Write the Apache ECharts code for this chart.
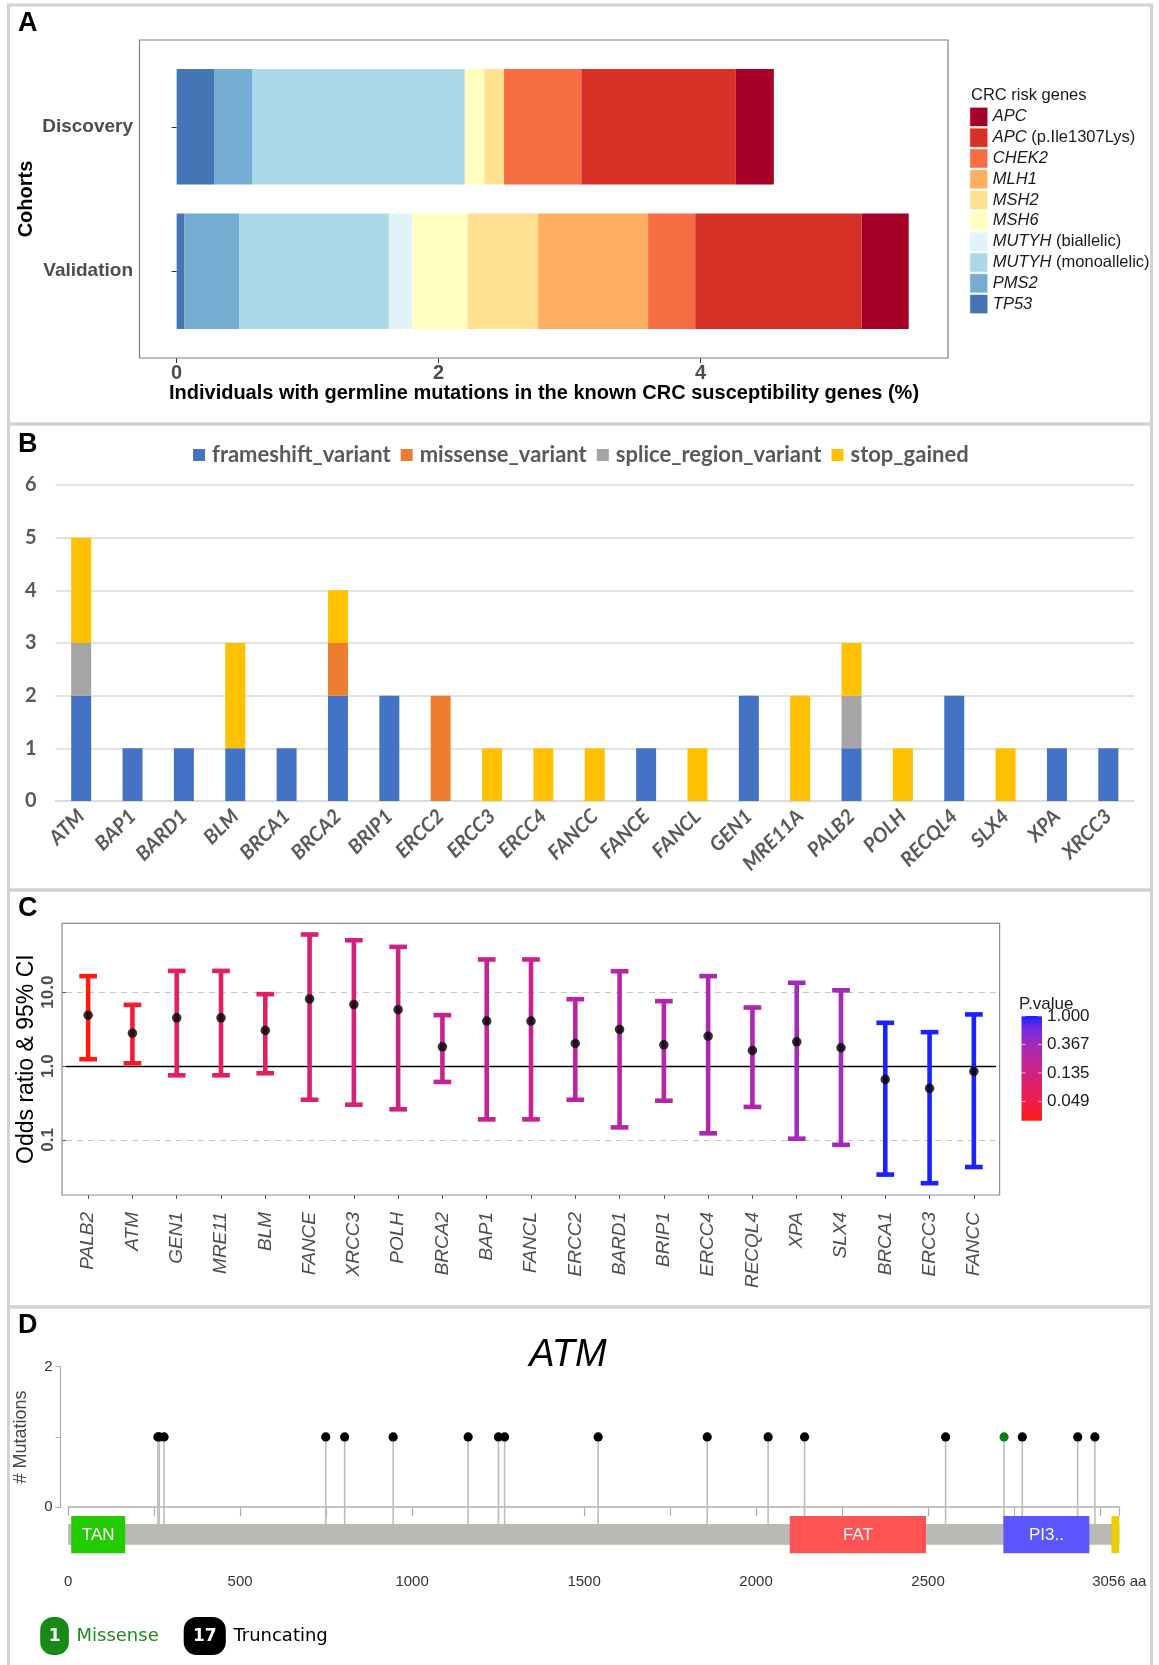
<!DOCTYPE html>
<html>
<head>
<meta charset="utf-8">
<script src="https://cdn.jsdelivr.net/npm/echarts@6/dist/echarts.min.js"></script>
<style>
  html, body { margin: 0; padding: 0; background: #fff; }
  #chart { width: 1159px; height: 1665px; }
</style>
</head>
<body>
<div id="chart"></div>
<script>
// ---------- A: carriers of known CRC risk genes per cohort (%) ----------
const cohorts = ['Discovery', 'Validation'];
const riskGenes = ['TP53', 'PMS2', 'MUTYH (monoallelic)', 'MUTYH (biallelic)', 'MSH6',
                   'MSH2', 'MLH1', 'CHEK2', 'APC (p.Ile1307Lys)', 'APC'];
const pctDiscovery  = [0.29, 0.29, 1.62, 0.00, 0.15, 0.15, 0.00, 0.59, 1.18, 0.29];
const pctValidation = [0.06, 0.42, 1.14, 0.18, 0.42, 0.54, 0.84, 0.36, 1.27, 0.36];
const xTicksA = [0, 2, 4];

// ---------- B: variant types in DNA repair genes ----------
const repairGenes = ['ATM', 'BAP1', 'BARD1', 'BLM', 'BRCA1', 'BRCA2', 'BRIP1', 'ERCC2', 'ERCC3', 'ERCC4',
                     'FANCC', 'FANCE', 'FANCL', 'GEN1', 'MRE11A', 'PALB2', 'POLH', 'RECQL4', 'SLX4', 'XPA', 'XRCC3'];
const frameshiftVariant   = [2, 1, 1, 1, 1, 2, 2, 0, 0, 0, 0, 1, 0, 2, 0, 1, 0, 2, 0, 1, 1];
const missenseVariant     = [0, 0, 0, 0, 0, 1, 0, 2, 0, 0, 0, 0, 0, 0, 0, 0, 0, 0, 0, 0, 0];
const spliceRegionVariant = [1, 0, 0, 0, 0, 0, 0, 0, 0, 0, 0, 0, 0, 0, 0, 1, 0, 0, 0, 0, 0];
const stopGained          = [2, 0, 0, 2, 0, 1, 0, 0, 1, 1, 1, 0, 1, 0, 2, 1, 1, 0, 1, 0, 0];

// ---------- C: odds ratios with 95% CI ----------
const orGenes = ['PALB2', 'ATM', 'GEN1', 'MRE11', 'BLM', 'FANCE', 'XRCC3', 'POLH', 'BRCA2', 'BAP1', 'FANCL',
                 'ERCC2', 'BARD1', 'BRIP1', 'ERCC4', 'RECQL4', 'XPA', 'SLX4', 'BRCA1', 'ERCC3', 'FANCC'];
const oddsRatio = [4.89, 2.79, 4.50, 4.50, 3.04, 8.10, 6.80, 5.80, 1.82, 4.06, 4.06,
                   2.02, 3.13, 1.94, 2.54, 1.63, 2.13, 1.77, 0.66, 0.50, 0.85];
const ciLower   = [1.24, 1.09, 0.75, 0.75, 0.80, 0.35, 0.30, 0.26, 0.61, 0.19, 0.19,
                   0.35, 0.148, 0.34, 0.123, 0.28, 0.104, 0.086, 0.034, 0.026, 0.043];
const ciUpper   = [16.5, 6.74, 19.4, 19.4, 9.40, 60.3, 50.4, 41.0, 4.89, 27.7, 27.7,
                   8.04, 19.2, 7.56, 16.5, 6.20, 13.4, 10.6, 3.85, 2.88, 5.00];
const pValue    = [0.025, 0.036, 0.076, 0.076, 0.085, 0.101, 0.118, 0.142, 0.170, 0.170, 0.170,
                   0.229, 0.255, 0.255, 0.296, 0.296, 0.369, 0.369, 1.000, 1.000, 1.000];
const orTicks = [0.1, 1, 10];
const pValueTicks = ['1.000', '0.367', '0.135', '0.049'];

// ---------- D: ATM protein, domains and mutations ----------
const atmLength = 3056;
const domainNames = ['TAN', 'FAT', 'PI3..', 'FATC'];
const domainStart = [9, 2098, 2719, 3033];
const domainEnd   = [166, 2494, 2969, 3056];
const truncatingPos   = [261, 265, 279, 749, 804, 945, 1163, 1251, 1269, 1541, 1858, 2035, 2141, 2551, 2774, 2935, 2985];
const truncatingCount = [1, 1, 1, 1, 1, 1, 1, 1, 1, 1, 1, 1, 1, 1, 1, 1, 1];
const missensePos     = [2721];
const missenseCount   = [1];
const proteinTicks  = [0, 250, 500, 750, 1000, 1250, 1500, 1750, 2000, 2250, 2500, 2750, 3000, 3056];
const proteinLabels = [0, 500, 1000, 1500, 2000, 2500, 3056];

// ---------- styles ----------
const geneColors = {
  'TP53': '#4575b4', 'PMS2': '#74add1', 'MUTYH (monoallelic)': '#abd9e9', 'MUTYH (biallelic)': '#e0f3f8',
  'MSH6': '#ffffbf', 'MSH2': '#fee090', 'MLH1': '#fdae61', 'CHEK2': '#f46d43',
  'APC (p.Ile1307Lys)': '#d73027', 'APC': '#a50026'
};
const variantColors = ['#4472c4', '#ed7d31', '#a5a5a5', '#ffc000'];
const pGradient = ['#ff1a10', '#f41c38', '#e81e55', '#da206f', '#cb2389', '#b826a4', '#9d29c0', '#772ade', '#1a22ff'];
const domainColors = { 'TAN': '#22cc00', 'FAT': '#ff5252', 'PI3..': '#5a55ff', 'FATC': '#e8d000' };
const SANS = 'Liberation Sans';
const XL = 'Lato';

const chart = echarts.init(document.getElementById('chart'), null, { renderer: 'canvas', width: 1159, height: 1665 });

// colour scale for p-values (log scale)
const lnPMin = Math.log(Math.min(...pValue));
const lnPMax = 0;

// colorbar geometry
const cb = { x: 1021.5, y: 1016, w: 20.5, h: 104.7 };
const cbY = p => cb.y + cb.h * (1 - (Math.log(p) - lnPMin) / (lnPMax - lnPMin));

const graphics = [];
// panel frames
[[5, 424], [424, 890], [890, 1307], [1307, 1670]].forEach(([y0, y1]) => {
  graphics.push({ type: 'rect', shape: { x: 8.5, y: y0, width: 1143, height: y1 - y0 },
    style: { fill: 'none', stroke: '#d2d2d2', lineWidth: 3 }, silent: true, z: 0 });
});
// panel letters
[['A', 23.5], ['B', 444.5], ['C', 909], ['D', 1326]].forEach(([t, y]) => {
  graphics.push({ type: 'text', x: 18, y: y, style: { text: t, font: 'bold 27px "Liberation Sans"',
    fill: '#000', textVerticalAlign: 'middle' }, silent: true });
});
// panel A plot box + legend title
graphics.push({ type: 'rect', shape: { x: 139.5, y: 40, width: 808.5, height: 318 },
  style: { fill: 'none', stroke: '#7f7f7f', lineWidth: 1.2 }, silent: true, z: 10 });
graphics.push({ type: 'text', x: 971, y: 95, style: { text: 'CRC risk genes', font: '16.5px "Liberation Sans"',
  fill: '#1a1a1a', textVerticalAlign: 'middle' }, silent: true });
// panel C plot box
graphics.push({ type: 'rect', shape: { x: 62, y: 923.3, width: 937.6, height: 271.7 },
  style: { fill: 'none', stroke: '#8c8c8c', lineWidth: 1.2 }, silent: true, z: 10 });
// panel C colorbar
graphics.push({ type: 'text', x: 1019, y: 1004, style: { text: 'P.value', font: '17px "Liberation Sans"',
  fill: '#1a1a1a', textVerticalAlign: 'middle' }, silent: true });
graphics.push({ type: 'rect', shape: { x: cb.x, y: cb.y, width: cb.w, height: cb.h }, silent: true,
  style: { fill: new echarts.graphic.LinearGradient(0, 1, 0, 0,
    pGradient.map((c, i) => ({ offset: i / (pGradient.length - 1), color: c }))) } });
pValueTicks.forEach(t => {
  const y = cbY(parseFloat(t));
  graphics.push({ type: 'line', shape: { x1: cb.x, y1: y, x2: cb.x + 4, y2: y }, style: { stroke: '#fff', lineWidth: 1, opacity: 0.7 }, silent: true });
  graphics.push({ type: 'line', shape: { x1: cb.x + cb.w - 4, y1: y, x2: cb.x + cb.w, y2: y }, style: { stroke: '#fff', lineWidth: 1, opacity: 0.7 }, silent: true });
  graphics.push({ type: 'text', x: 1047, y: y, style: { text: t, font: '17px "Liberation Sans"', fill: '#1a1a1a',
    textVerticalAlign: 'middle' }, silent: true });
});
// panel D mutation-type badges
const nMissense = missenseCount.reduce((a, b) => a + b, 0);
const nTruncating = truncatingCount.reduce((a, b) => a + b, 0);
[[40.2, 28.7, '#178a17', String(nMissense), 'Missense', '#1e8c1e', 76.5],
 [183.7, 42.1, '#000000', String(nTruncating), 'Truncating', '#000000', 233.4]].forEach(([x, w, fill, n, label, lc, lx]) => {
  graphics.push({ type: 'rect', shape: { x: x, y: 1617, width: w, height: 38, r: 13 }, style: { fill: fill }, silent: true });
  graphics.push({ type: 'text', x: x + w / 2, y: 1636.5, style: { text: n, font: 'bold 17px "DejaVu Sans"', fill: '#fff',
    textAlign: 'center', textVerticalAlign: 'middle' }, silent: true });
  graphics.push({ type: 'text', x: lx, y: 1636.5, style: { text: label, font: '18px "DejaVu Sans"', fill: lc,
    textVerticalAlign: 'middle' }, silent: true });
});

// series
const series = [];
// A: stacked horizontal bars
riskGenes.forEach((g, i) => {
  series.push({
    name: g, type: 'bar', stack: 'cohort', xAxisIndex: 0, yAxisIndex: 0, barWidth: '80%',
    data: [pctDiscovery[i], pctValidation[i]],
    itemStyle: { color: geneColors[g] }, emphasis: { disabled: true }, silent: true
  });
});
// B: stacked vertical bars
[['frameshift_variant', frameshiftVariant], ['missense_variant', missenseVariant],
 ['splice_region_variant', spliceRegionVariant], ['stop_gained', stopGained]].forEach(([name, vals], i) => {
  series.push({
    name: name, type: 'bar', stack: 'variant', xAxisIndex: 1, yAxisIndex: 1, barWidth: 20,
    data: vals, itemStyle: { color: variantColors[i] }, emphasis: { disabled: true }, silent: true
  });
});
// C: error bars coloured by p-value
const errSeriesIndex = series.length;
series.push({
  type: 'custom', xAxisIndex: 2, yAxisIndex: 2, z: 6, silent: true,
  data: orGenes.map((g, i) => [i, oddsRatio[i], ciLower[i], ciUpper[i], Math.log(pValue[i])]),
  encode: { x: 0, y: [2, 3] },
  renderItem: (params, api) => {
    const i = api.value(0);
    const x = api.coord([i, 1])[0];
    const yLo = api.coord([i, api.value(2)])[1];
    const yHi = api.coord([i, api.value(3)])[1];
    const half = api.size([1, 1])[0] * 0.2;
    const style = { stroke: api.visual('color'), lineWidth: 4.6 };
    return { type: 'group', children: [
      { type: 'line', shape: { x1: x, y1: yLo, x2: x, y2: yHi }, style: style },
      { type: 'line', shape: { x1: x - half, y1: yHi, x2: x + half, y2: yHi }, style: style },
      { type: 'line', shape: { x1: x - half, y1: yLo, x2: x + half, y2: yLo }, style: style }
    ] };
  },
  markLine: {
    silent: true, symbol: 'none', z: 1, label: { show: false }, animation: false,
    data: [
      { yAxis: 10, lineStyle: { color: '#cdc6c0', type: [6, 5], width: 1.2 } },
      { yAxis: 0.1, lineStyle: { color: '#cdc6c0', type: [6, 5], width: 1.2 } },
      { yAxis: 1, lineStyle: { color: '#000', type: 'solid', width: 1.3 } }
    ]
  }
});
series.push({
  type: 'scatter', xAxisIndex: 2, yAxisIndex: 2, z: 8, silent: true, symbolSize: 9.5,
  itemStyle: { color: '#000' },
  data: orGenes.map((g, i) => [i, oddsRatio[i]])
});
// D: protein backbone
series.push({
  type: 'custom', xAxisIndex: 3, yAxisIndex: 3, z: 2, silent: true,
  data: [[0, atmLength]], encode: { x: [0, 1] },
  renderItem: (params, api) => {
    const p0 = api.coord([api.value(0), -0.238]);
    const p1 = api.coord([api.value(1), -0.536]);
    return { type: 'rect', shape: { x: p0[0], y: p0[1], width: p1[0] - p0[0], height: p1[1] - p0[1] },
      style: { fill: '#bab9b4' } };
  }
});
// D: lollipops
function lollipop(color) {
  return (params, api) => {
    const base = api.coord([api.value(0), -0.238]);
    const head = api.coord([api.value(0), api.value(1)]);
    return { type: 'group', children: [
      { type: 'line', shape: { x1: base[0], y1: base[1], x2: head[0], y2: head[1] }, style: { stroke: '#bdbdbd', lineWidth: 1.6 } },
      { type: 'circle', shape: { cx: head[0], cy: head[1], r: 4.6 }, style: { fill: color } }
    ] };
  };
}
series.push({
  type: 'custom', xAxisIndex: 3, yAxisIndex: 3, z: 3, silent: true,
  data: truncatingPos.map((p, i) => [p, truncatingCount[i]]), encode: { x: 0, y: 1 },
  renderItem: lollipop('#000')
});
series.push({
  type: 'custom', xAxisIndex: 3, yAxisIndex: 3, z: 3, silent: true,
  data: missensePos.map((p, i) => [p, missenseCount[i]]), encode: { x: 0, y: 1 },
  renderItem: lollipop('#0a7f0a')
});
// D: domains
series.push({
  type: 'custom', xAxisIndex: 3, yAxisIndex: 3, z: 4, silent: true,
  data: domainNames.map((n, i) => [domainStart[i], domainEnd[i], i]), encode: { x: [0, 1] },
  renderItem: (params, api) => {
    const name = domainNames[api.value(2)];
    const p0 = api.coord([api.value(0), -0.124]);
    const p1 = api.coord([api.value(1), -0.654]);
    const w = p1[0] - p0[0];
    const children = [{ type: 'rect', shape: { x: p0[0], y: p0[1], width: w, height: p1[1] - p0[1] },
      style: { fill: domainColors[name] } }];
    if (w > 40) {
      children.push({ type: 'text', x: p0[0] + w / 2, y: (p0[1] + p1[1]) / 2 + 1,
        style: { text: name, font: '17px "Liberation Sans"', fill: '#fff', textAlign: 'center', textVerticalAlign: 'middle' } });
    }
    return { type: 'group', children: children };
  }
});

const option = {
  animation: false,
  textStyle: { fontFamily: SANS },
  title: { text: 'ATM', left: 563, top: 1331, textAlign: 'center',
    textStyle: { fontStyle: 'italic', fontWeight: 'normal', fontSize: 38, color: '#000', fontFamily: SANS } },
  grid: [
    { left: 140, width: 808, top: 54.5, height: 289, outerBoundsMode: 'none' },
    { left: 55.5, width: 1078.5, top: 485, height: 316, outerBoundsMode: 'none' },
    { left: 66, width: 930, top: 923.3, height: 271.7, outerBoundsMode: 'none' },
    { left: 68.1, width: 1051.2, top: 1366.7, height: 195.3, outerBoundsMode: 'none' },
    { left: 60.5, width: 20, top: 1366.7, height: 140.6, outerBoundsMode: 'none' }
  ],
  xAxis: [
    { type: 'value', gridIndex: 0, min: -0.28, max: 5.89, offset: 14.5,
      axisLine: { show: false }, splitLine: { show: false },
      axisTick: { show: true, customValues: xTicksA, length: 5, lineStyle: { color: '#333' } },
      axisLabel: { customValues: xTicksA, fontSize: 20, fontWeight: 'bold', color: '#4d4d4d', margin: 5 },
      name: 'Individuals with germline mutations in the known CRC susceptibility genes (%)',
      nameLocation: 'middle', nameGap: 25, nameMoveOverlap: false,
      nameTextStyle: { fontSize: 20, fontWeight: 'bold', color: '#000' } },
    { type: 'category', gridIndex: 1, data: repairGenes,
      axisLine: { show: true, lineStyle: { color: '#d9d9d9', width: 1.5 } }, axisTick: { show: false },
      axisLabel: { interval: 0, rotate: 45, margin: 12, fontFamily: XL, fontSize: 20, fontWeight: 'bold',
        fontStyle: 'italic', color: '#595959' } },
    { type: 'category', gridIndex: 2, data: orGenes,
      axisLine: { show: false },
      axisTick: { show: true, alignWithLabel: true, length: 4, lineStyle: { color: '#555' } },
      axisLabel: { interval: 0, rotate: 90, margin: 17, fontSize: 19, fontStyle: 'italic', color: '#4d4d4d' } },
    { type: 'value', gridIndex: 3, min: 0, max: atmLength,
      axisLine: { show: true, lineStyle: { color: '#b0b0b0', width: 1.5 } },
      splitLine: { show: false },
      axisTick: { show: true, customValues: proteinTicks, length: 9, lineStyle: { color: '#b0b0b0', width: 1.2 } },
      axisLabel: { customValues: proteinLabels, fontSize: 15, color: '#333', margin: 12,
        formatter: v => v === atmLength ? v + ' aa' : String(v) } },
    { type: 'value', gridIndex: 4, show: false, min: 0, max: 1 }
  ],
  yAxis: [
    { type: 'category', gridIndex: 0, data: cohorts, inverse: true,
      axisLine: { show: false },
      axisTick: { show: true, alignWithLabel: true, length: 5, lineStyle: { color: '#333' } },
      axisLabel: { fontSize: 19, fontWeight: 'bold', color: '#4d4d4d', margin: 7 },
      name: 'Cohorts', nameLocation: 'middle', nameRotate: 90, nameGap: 104, nameMoveOverlap: false,
      nameTextStyle: { fontSize: 20, fontWeight: 'bold', color: '#000' } },
    { type: 'value', gridIndex: 1, min: 0, max: 6, interval: 1,
      axisLine: { show: false }, axisTick: { show: false },
      splitLine: { show: true, lineStyle: { color: '#d9d9d9', width: 1.5 } },
      axisLabel: { fontFamily: XL, fontSize: 20, fontWeight: 'bold', color: '#595959', margin: 19 } },
    { type: 'log', logBase: 10, gridIndex: 2, min: 0.018, max: 85.5,
      axisLine: { show: false }, splitLine: { show: false }, minorTick: { show: false },
      axisTick: { show: true, customValues: orTicks, length: 4, lineStyle: { color: '#555' } },
      axisLabel: { customValues: orTicks, rotate: 90, margin: 9, fontSize: 17, fontWeight: 'bold', color: '#4d4d4d',
        formatter: v => Number(v).toFixed(1) },
      name: 'Odds ratio & 95% CI', nameLocation: 'middle', nameRotate: 90, nameGap: 28, nameMoveOverlap: false,
      nameTextStyle: { fontSize: 23, color: '#000' } },
    { type: 'value', gridIndex: 3, min: -0.78, max: 2, show: false },
    { type: 'value', gridIndex: 4, min: 0, max: 2, interval: 1,
      axisLine: { show: true, lineStyle: { color: '#b0b0b0', width: 1.2 } },
      splitLine: { show: false },
      axisTick: { show: true, length: 5, lineStyle: { color: '#b0b0b0' } },
      axisLabel: { fontSize: 15, color: '#333', margin: 8, formatter: v => (v === 1 ? '' : String(v)) },
      name: '# Mutations', nameLocation: 'middle', nameRotate: 90, nameGap: 30, nameMoveOverlap: false,
      nameTextStyle: { fontSize: 18, color: '#444' } }
  ],
  legend: [
    { orient: 'vertical', left: 969.5, top: 107, padding: 0, itemWidth: 18, itemHeight: 19.2, itemGap: 1, icon: 'rect',
      selectedMode: false, data: riskGenes.slice().reverse(),
      itemStyle: { borderColor: '#fff', borderWidth: 0.6 },
      formatter: name => {
        const k = name.indexOf(' (');
        return k < 0 ? '{g|' + name + '}' : '{g|' + name.slice(0, k) + '}{n|' + name.slice(k) + '}';
      },
      textStyle: { fontSize: 16.5, color: '#1a1a1a',
        rich: { g: { fontStyle: 'italic', fontSize: 16.5, color: '#1a1a1a', fontFamily: SANS },
                n: { fontSize: 16.5, color: '#1a1a1a', fontFamily: SANS } } } },
    { orient: 'horizontal', left: 193, top: 444, padding: 0, itemWidth: 12, itemHeight: 12, itemGap: 10, icon: 'rect',
      selectedMode: false, data: ['frameshift_variant', 'missense_variant', 'splice_region_variant', 'stop_gained'],
      textStyle: { fontFamily: XL, fontSize: 22, fontWeight: 'bold', color: '#595959', padding: [0, 0, 0, 2] } }
  ],
  visualMap: [{
    type: 'continuous', show: false, seriesIndex: errSeriesIndex, dimension: 4,
    min: lnPMin, max: lnPMax, inRange: { color: pGradient }
  }],
  series: series,
  graphic: { elements: graphics }
};
chart.setOption(option);
</script>
</body>
</html>
